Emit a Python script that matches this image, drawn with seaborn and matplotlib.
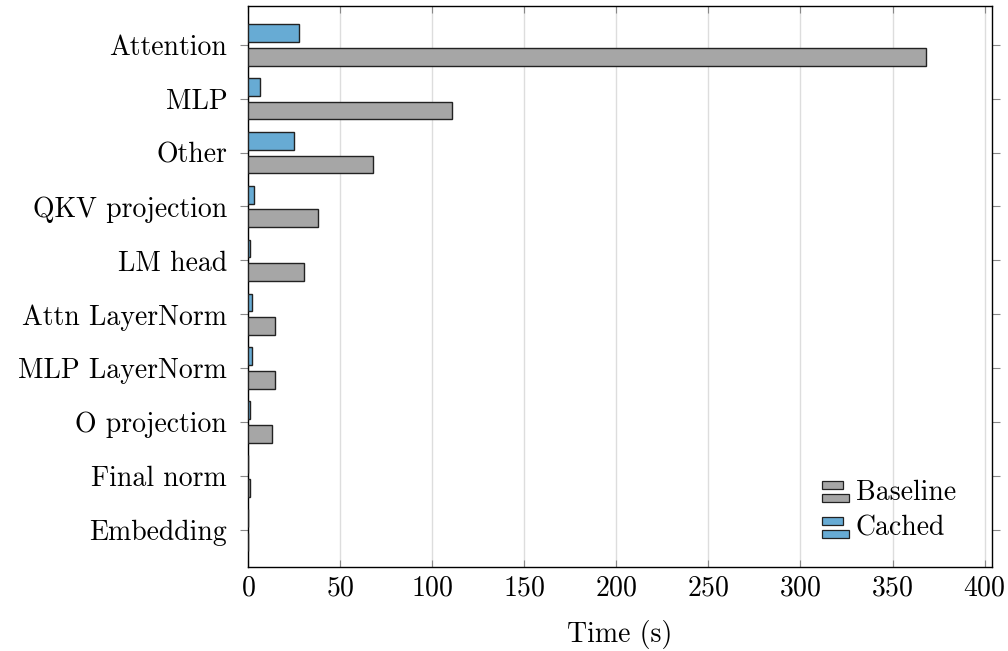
import matplotlib
matplotlib.use('Agg')
import matplotlib.pyplot as plt
from matplotlib.patches import Rectangle
from matplotlib.legend_handler import HandlerBase
import seaborn as sns
import pandas as pd

# data
components = ['Attention', 'MLP', 'Other', 'QKV projection', 'LM head',
              'Attn LayerNorm', 'MLP LayerNorm', 'O projection', 'Final norm', 'Embedding']
baseline = [368.0, 111.0, 68.0, 38.0, 30.5, 14.5, 14.5, 13.2, 1.1, 0.2]
cached = [27.5, 6.5, 25.0, 3.5, 1.0, 2.2, 2.2, 1.3, 0.1, 0.05]

col_baseline = '#a6a6a6'
col_cached = '#67abd4'

df = pd.DataFrame({
    'component': components * 2,
    'time': cached + baseline,
    'run': ['Cached'] * len(components) + ['Baseline'] * len(components),
})

sns.set_style('white')
plt.rcParams['font.family'] = ['cmr10', 'DejaVu Serif']
plt.rcParams['mathtext.fontset'] = 'cm'
plt.rcParams['axes.formatter.use_mathtext'] = True
plt.rcParams['text.color'] = 'black'
plt.rcParams['xtick.labelcolor'] = 'black'
plt.rcParams['ytick.labelcolor'] = 'black'
plt.rcParams['axes.labelcolor'] = 'black'

fig = plt.figure(figsize=(10.08, 6.51), dpi=100)
ax = fig.add_axes([248 / 1008, 1 - 567 / 651, (992 - 248) / 1008, (567 - 6) / 651])

sns.barplot(data=df, x='time', y='component', hue='run', orient='h',
            order=components, hue_order=['Cached', 'Baseline'],
            palette={'Cached': col_cached, 'Baseline': col_baseline},
            width=0.88, gap=0.25, edgecolor='#222222', linewidth=1.0,
            saturation=1, legend=False, ax=ax, zorder=3)

ax.set_xlim(0, 404)
ax.set_ylim(9.69, -0.72)
ax.set_xticks(range(0, 401, 50))
ax.grid(axis='x', color='#dddddd', linewidth=1.0, zorder=0)
ax.set_axisbelow(True)
ax.set_xlabel('Time (s)', fontsize=20, labelpad=13)
ax.set_ylabel('')
ax.tick_params(axis='x', direction='in', top=True, bottom=True, length=5,
               color='#888888', labelsize=20, pad=6)
ax.tick_params(axis='y', direction='out', left=True, right=True, length=6,
               color='#888888', labelsize=20, pad=9)
for s in ax.spines.values():
    s.set_color('black')
    s.set_linewidth(1.0)


class TwoBars(HandlerBase):
    # pgfplots style legend image: two small stacked bars
    def create_artists(self, legend, orig_handle, xdescent, ydescent, width, height, fontsize, trans):
        fc = orig_handle.get_facecolor()
        r1 = Rectangle((-xdescent + width * 0.05, -ydescent + height * 0.55), width * 0.75, height * 0.42,
                       facecolor=fc, edgecolor='#222222', linewidth=0.9, transform=trans)
        r2 = Rectangle((-xdescent + width * 0.05, -ydescent - height * 0.12), width * 0.95, height * 0.42,
                       facecolor=fc, edgecolor='#222222', linewidth=0.9, transform=trans)
        return [r1, r2]


h_base = Rectangle((0, 0), 1, 1, facecolor=col_baseline)
h_cach = Rectangle((0, 0), 1, 1, facecolor=col_cached)
ax.legend([h_base, h_cach], ['Baseline', 'Cached'], loc='lower right',
          frameon=False, fontsize=20, handler_map={Rectangle: TwoBars()},
          handlelength=1.0, handletextpad=0.25, labelspacing=0.35,
          bbox_to_anchor=(0.985, 0.0))

fig.savefig('out.png', dpi=100)
